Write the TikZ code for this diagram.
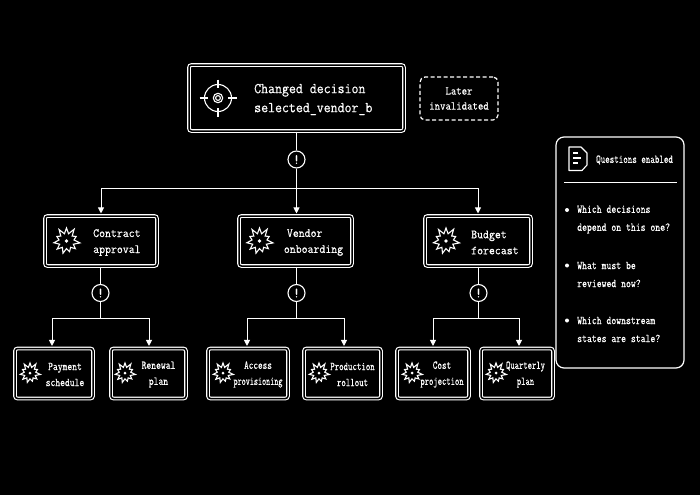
\documentclass[tikz,border=0pt]{standalone}
\usepackage{graphicx}
\usepackage{fontspec}
\setmonofont{Latin Modern Mono}[FakeBold=0.5]
\usetikzlibrary{arrows.meta,calc}
\newcommand{\sq}[2]{\scalebox{#1}[1]{#2}}
\newcommand{\burst}[3]{%
  \draw[iconline,shift={(#1,#2)}] (270:#3) \foreach \a/\r in {
    286/.58,303/1.08,319/.58,335/.82,352/.58,8/1.05,25/.58,41/.9,57/.58,74/.85,90/.58,
    106/.98,123/.58,139/.95,155/.58,172/.98,188/.58,205/.82,221/.58,237/1.05,254/.58} {-- (\a:\r*#3)} -- cycle;
  \fill[white,shift={(#1,#2)}] (0,0) circle ({#3*.15});
}
\tikzset{
  x=1pt,y=-1pt,
  dbox/.style={draw=white,double=black,line width=1.1pt,double distance=1.5pt,
    rounded corners=2.5pt,inner sep=0pt},
  iconline/.style={draw=white,line width=1.1pt,line join=miter,fill=none},
  wire/.style={draw=white,line width=1pt},
  arrowwire/.style={wire,-{Triangle[length=6pt,width=6pt]},shorten >=2pt},
  alertmark/.style={circle,draw=white,fill=black,line width=1.1pt,minimum size=17pt,inner sep=0pt,
    text=white,font=\fontsize{14}{14}\selectfont\ttfamily},
  lead/.style={text=white,inner sep=0pt,font=\fontsize{15}{19}\selectfont\ttfamily,align=left,anchor=west},
  mid/.style={text=white,inner sep=0pt,font=\fontsize{12.5}{16}\selectfont\ttfamily,align=left,anchor=west},
  leaf/.style={text=white,inner sep=0pt,font=\fontsize{12}{16}\selectfont\ttfamily,align=center},
  note/.style={text=white,inner sep=0pt,font=\fontsize{12}{15}\selectfont\ttfamily,align=center},
  ask/.style={text=white,inner sep=0pt,font=\fontsize{12}{18}\selectfont\ttfamily,align=left,anchor=west},
}
\begin{document}
\begin{tikzpicture}
\useasboundingbox[fill=black] (0,0) rectangle (700,495);

% boxes
\node[dbox,minimum width=215pt,minimum height=66pt] (main) at (296.5,98) {};
\node[draw=white,line width=1.2pt,rounded corners=5pt,minimum width=78pt,minimum height=43pt,
  dash pattern=on 4pt off 2.5pt] (later) at (459,98.5) {};
\node[note] (latertxt) at (459,98.5) {\sq{.875}{Later}\\\sq{.875}{invalidated}};

\node[dbox,minimum width=112pt,minimum height=50pt] (contract) at (101,241) {};
\node[dbox,minimum width=113pt,minimum height=50pt] (vendor) at (295.5,241) {};
\node[dbox,minimum width=106pt,minimum height=50pt] (budget) at (478,241) {};

\node[dbox,minimum width=78pt,minimum height=50pt] (payment) at (54,373.5) {};
\node[dbox,minimum width=75pt,minimum height=50pt] (renewal) at (148.5,373.5) {};
\node[dbox,minimum width=80pt,minimum height=50pt] (access) at (248,373.5) {};
\node[dbox,minimum width=77pt,minimum height=50pt] (production) at (342.5,373.5) {};
\node[dbox,minimum width=72pt,minimum height=50pt] (cost) at (433,373.5) {};
\node[dbox,minimum width=72pt,minimum height=50pt] (quarterly) at (517,373.5) {};

% exclamation markers
\node[alertmark] (m0) at (296.5,159.5) {!};
\node[alertmark] (m1) at (100.5,293) {!};
\node[alertmark] (m2) at (296.5,293) {!};
\node[alertmark] (m3) at (478.5,293) {!};
\coordinate (bus0) at (296.5,188);
\coordinate (bus1) at (100.5,318);
\coordinate (bus2) at (296.5,318);
\coordinate (bus3) at (478.5,318);

% connectors
\draw[wire] (main.south) -- (m0);
\draw[wire] (m0) -- (bus0);
\draw[arrowwire] (bus0) -| (contract.north);
\draw[arrowwire] (bus0) -- (bus0 |- vendor.north);
\draw[arrowwire] (bus0) -| (budget.north);
\draw[wire] (m1 |- contract.south) -- (m1);
\draw[wire] (m2 |- vendor.south) -- (m2);
\draw[wire] (m3 |- budget.south) -- (m3);
\draw[wire] (m1) -- (bus1);
\draw[wire] (m2) -- (bus2);
\draw[wire] (m3) -- (bus3);
\draw[arrowwire] (bus1) -| ([xshift=-2pt]payment.north);
\draw[arrowwire] (bus1) -| ([xshift=.5pt]renewal.north);
\draw[arrowwire] (bus2) -| ([xshift=-1pt]access.north);
\draw[arrowwire] (bus2) -| ([xshift=1.5pt]production.north);
\draw[arrowwire] (bus3) -| (cost.north);
\draw[arrowwire] (bus3) -| ([xshift=2pt]quarterly.north);

% target icon
\draw[iconline] (218,98) circle (13.5);
\draw[iconline] (218,98) circle (4.7);
\draw[iconline] (218,98) circle (2.4);
\draw[iconline] (199.5,98) -- (208,98) (228,98) -- (236.5,98)
  (218,79.5) -- (218,88) (218,108) -- (218,116.5);

% burst icons
\burst{66.5}{241}{13}
\burst{259.5}{241}{13}
\burst{446}{241}{13}
\burst{30}{373}{10}
\burst{125}{373}{10}
\burst{223}{373}{10}
\burst{319}{373}{10}
\burst{412}{373}{10}
\burst{496}{373}{10}

% labels
\node[lead] (maintxt) at (254,99.5) {\sq{.9}{Changed decision}\\\sq{.9}{selected\_vendor\_b}};
\node[mid] (contracttxt) at (93,242.5) {\sq{.92}{Contract}\\\sq{.92}{approval}};
\node[mid] (vendortxt) at (283.7,242.5) {\hspace*{3pt}\sq{.92}{Vendor}\\\sq{.92}{onboarding}};
\node[mid] (budgettxt) at (471,242.5) {\sq{.92}{Budget}\\\sq{.92}{forecast}};
\node[leaf] (paymenttxt) at (65,374.5) {\sq{.78}{Payment}\\\sq{.78}{schedule}};
\node[leaf] (renewaltxt) at (158.5,374.5) {\sq{.78}{Renewal}\\\sq{.78}{plan}};
\node[leaf] (accesstxt) at (258,374.5) {\sq{.75}{Access}\\\sq{.66}{provisioning}};
\node[leaf] (productiontxt) at (352.5,374.5) {\sq{.72}{Production}\\\sq{.72}{rollout}};
\node[leaf] (costtxt) at (442,374.5) {\sq{.74}{Cost}\\\sq{.7}{projection}};
\node[leaf] (quarterlytxt) at (525.5,374.5) {\sq{.7}{Quarterly}\\\sq{.7}{plan}};

% side panel
\node[draw=white,line width=1.2pt,rounded corners=8pt,minimum width=128pt,minimum height=231pt,
  fill=black] (panel) at (620,252.5) {};
\draw[iconline,line join=round] (569,147) -- (581,147) -- (587,153) -- (587,165) -- (582,170.5) -- (569,170.5) -- cycle;
\draw[iconline] (573,153) -- (578,153) (573,158) -- (581,158) (573,163) -- (578,163);
\node[ask] (qtitle) at (596,160) {\sq{.73}{Questions enabled}};
\coordinate (divl) at (564,182);
\coordinate (divr) at (677,182);
\draw[wire] (divl) -- (divr);
\fill[white] (567,210) circle (2) (567,265.5) circle (2) (567,320.5) circle (2);
\node[ask] (q1) at (577,219.5) {\sq{.79}{Which decisions}\\\sq{.79}{depend on this one?}};
\node[ask] (q2) at (577,274.5) {\sq{.79}{What must be}\\\sq{.79}{reviewed now?}};
\node[ask] (q3) at (577,329.5) {\sq{.79}{Which downstream}\\\sq{.79}{states are stale?}};
\end{tikzpicture}
\end{document}
